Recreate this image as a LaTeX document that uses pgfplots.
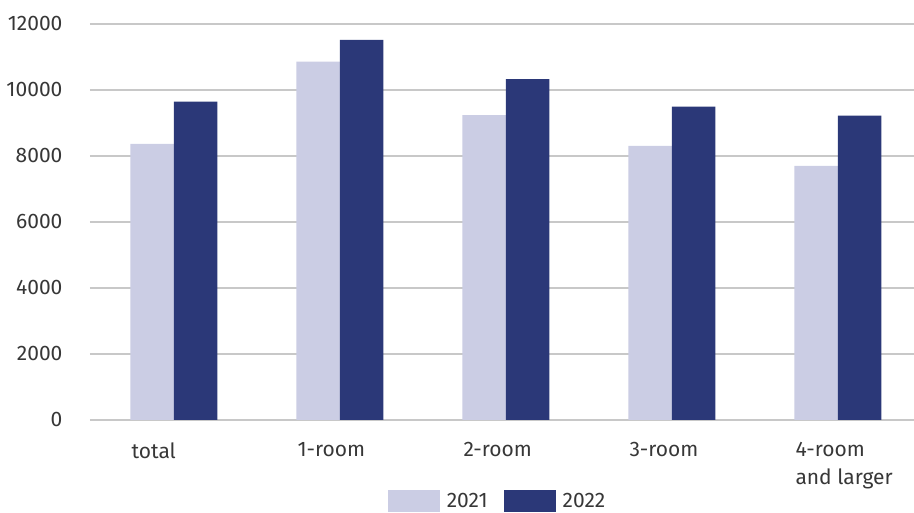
\documentclass[border=0pt]{standalone}
\usepackage{pgfplots}
\pgfplotsset{compat=1.18}
\usepackage{fontspec}
\setmainfont{Fira Sans}
\definecolor{lightbar}{RGB}{203,205,228}
\definecolor{darkbar}{RGB}{43,56,120}
\definecolor{gridgray}{RGB}{200,200,200}
\definecolor{txt}{RGB}{55,55,55}
\begin{document}
\begin{tikzpicture}
\begin{axis}[
  name=ax,
  scale only axis,
  width=824pt, height=396pt,
  xmin=-0.506, xmax=4.458,
  ymin=0, ymax=12000,
  ytick={0,2000,4000,6000,8000,10000,12000},
  xtick={0,1,2,3,4},
  xticklabels={total,1-room,2-room,3-room,{4-room\\and larger}},
  axis line style={draw=none},
  major tick length=0pt,
  ymajorgrids,
  grid style={gridgray, line width=1.4pt},
  /pgf/number format/assume math mode=true,
  scaled y ticks=false,
  yticklabel style={/pgf/number format/1000 sep={}, font=\fontsize{21}{24}\selectfont, text=txt, anchor=east, xshift=-24pt},
  xticklabel style={font=\fontsize{21}{28}\selectfont, text=txt, anchor=north west, align=left, xshift=-46pt, yshift=-19pt},
  clip=false,
  legend style={at={(0.4946,0)}, anchor=center, yshift=-81pt, draw=none, fill=none,
    legend columns=2, font=\fontsize{21}{24}\selectfont, text=txt,
    /tikz/every even column/.append style={column sep=14pt}},
  legend image code/.code={\fill[#1] (0pt,-11pt) rectangle (52pt,11pt); \path (57pt,0pt);},
]
\addplot[ybar, bar width=43.5pt, bar shift=-21.75pt, fill=lightbar, draw=none] coordinates {
 (0,8364) (1,10858) (2,9242) (3,8303) (4,7697)};
\addlegendentry{2021}
\addplot[ybar, bar width=43.5pt, bar shift=21.75pt, fill=darkbar, draw=none] coordinates {
 (0,9645) (1,11515) (2,10333) (3,9494) (4,9221)};
\addlegendentry{2022}
\end{axis}
\pgfresetboundingbox
\path ([shift={(-90pt,-93pt)}]ax.south west) rectangle ([shift={(0pt,24pt)}]ax.north east);
\end{tikzpicture}
\end{document}
